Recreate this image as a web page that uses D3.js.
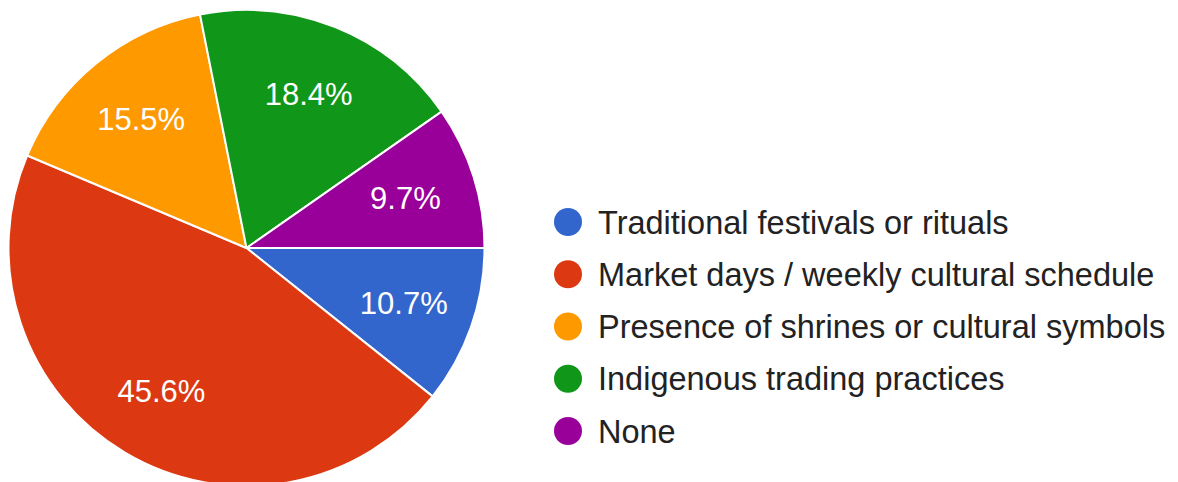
<!DOCTYPE html>
<html>
<head>
<meta charset="utf-8">
<script src="https://cdn.jsdelivr.net/npm/d3@7"></script>
<style>
  html, body { margin: 0; padding: 0; background: #fff; }
  svg { display: block; font-family: "Liberation Sans", Arial, sans-serif; }
</style>
</head>
<body>
<svg id="chart" width="1178" height="482"></svg>
<script>
// Survey responses: cultural factors that shape trading activity
const categories = [
  "Traditional festivals or rituals",
  "Market days / weekly cultural schedule",
  "Presence of shrines or cultural symbols",
  "Indigenous trading practices",
  "None"
];
const percentages = [10.7, 45.6, 15.5, 18.4, 9.7];
const colors = ["#3366cc", "#dc3912", "#ff9900", "#109618", "#990099"];

const svg = d3.select("#chart");
const cx = 246.5, cy = 248, radius = 238;

// Slices run clockwise starting from 3 o'clock
const pie = d3.pie()
  .sort(null)
  .value(d => d.value)
  .startAngle(Math.PI / 2)
  .endAngle(Math.PI / 2 + 2 * Math.PI);

const data = categories.map((c, i) => ({ name: c, value: percentages[i], color: colors[i] }));
const arcs = pie(data);

const arc = d3.arc().innerRadius(0).outerRadius(radius);
const labelArc = d3.arc().innerRadius(radius * 0.70).outerRadius(radius * 0.70);

const g = svg.append("g").attr("transform", `translate(${cx},${cy})`);

g.selectAll("path.slice")
  .data(arcs)
  .join("path")
  .attr("class", "slice")
  .attr("d", arc)
  .attr("fill", d => d.data.color)
  .attr("stroke", "#ffffff")
  .attr("stroke-width", 2)
  .attr("stroke-linejoin", "round");

g.selectAll("text.pct")
  .data(arcs)
  .join("text")
  .attr("class", "pct")
  .attr("transform", d => `translate(${labelArc.centroid(d)})`)
  .attr("text-anchor", "middle")
  .attr("dy", "0.36em")
  .attr("fill", "#ffffff")
  .attr("font-size", 31)
  .text(d => d.data.value.toFixed(1) + "%");

// Legend
const legendY = d3.scalePoint()
  .domain(categories)
  .range([222, 431]);

const legend = svg.append("g");
const items = legend.selectAll("g.item")
  .data(data)
  .join("g")
  .attr("class", "item")
  .attr("transform", d => `translate(568,${legendY(d.name)})`);

items.append("circle")
  .attr("r", 14)
  .attr("fill", d => d.color);

items.append("text")
  .attr("x", 30)
  .attr("dy", "0.36em")
  .attr("fill", "#222222")
  .attr("font-size", 32.5)
  .text(d => d.name);
</script>
</body>
</html>
